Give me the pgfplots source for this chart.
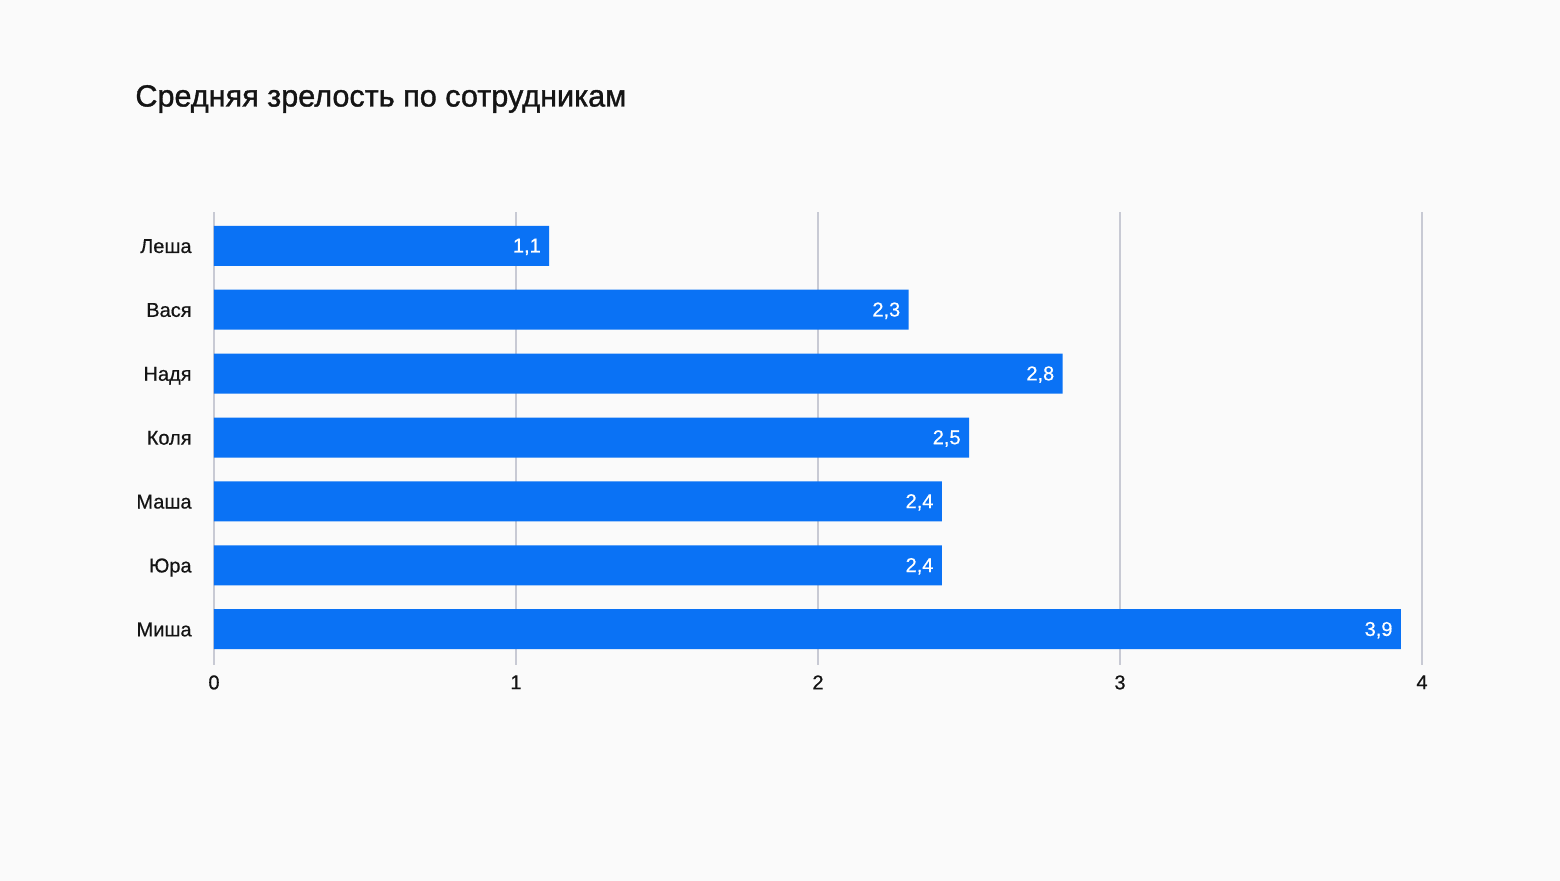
\documentclass[border=0pt]{standalone}
\usepackage{pgfplots}
\pgfplotsset{compat=1.18}
\usepackage{fontspec}
\setmainfont{Liberation Sans}
\newfontfamily\titlefont[FakeBold=1.2]{Liberation Sans}
\newfontfamily\labfont[FakeBold=0.5]{Liberation Sans}
\definecolor{barblue}{HTML}{0A72F5}
\definecolor{bg}{HTML}{FAFAFA}
\definecolor{gridc}{HTML}{C8CAD4}
\definecolor{txt}{HTML}{141414}
\begin{document}
\begin{tikzpicture}
\fill[bg] (-107pt,-108pt) rectangle (673pt,332.5pt);
\useasboundingbox (-107pt,-108pt) rectangle (673pt,332.5pt);
\node[anchor=west,inner sep=0pt,font=\titlefont\fontsize{15.3}{18}\selectfont,text=txt] at (-39.5pt,283pt) {Средняя зрелость по сотрудникам};
\begin{axis}[
  at={(0,0)}, anchor=south west,
  scale only axis, width=604pt, height=226.5pt,
  xbar, bar width=20pt,
  xmin=0, xmax=4, ymin=-0.56, ymax=6.53,
  axis line style={draw=none},
  xtick={0,1,2,3,4}, ytick={0,...,6},
  yticklabels={Миша,Юра,Маша,Коля,Надя,Вася,Леша},
  xmajorgrids, major grid style={gridc, line width=0.6pt},
  major tick length=0pt,
  /pgf/number format/assume math mode=true,
  tick label style={font=\labfont\fontsize{10}{12}\selectfont, text=txt},
  xticklabel style={anchor=north, inner sep=0pt, yshift=-5pt},
  yticklabel style={anchor=east, inner sep=0pt, xshift=-11pt, text height=7.2pt, text depth=2.1pt, yshift=-1pt},
  nodes near coords,
  nodes near coords style={anchor=east, inner sep=0pt, xshift=-4pt, yshift=-0.5pt, text=white, font=\labfont\fontsize{10}{12}\selectfont,
     /pgf/number format/.cd, use comma, fixed, precision=1, fixed zerofill},
  clip=false,
]
\addplot[fill=barblue, draw=none] coordinates {
 (3.93,0) (2.41,1) (2.41,2) (2.5,3) (2.81,4) (2.3,5) (1.11,6)
};
\end{axis}
\end{tikzpicture}
\end{document}
